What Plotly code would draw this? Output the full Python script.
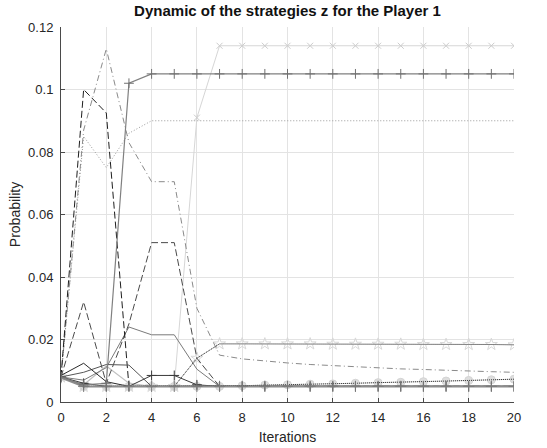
import plotly.graph_objects as go

iterations = list(range(21))

# series values (probabilities per iteration)
s_x_light = [0.008, 0.005, 0.005, 0.005, 0.005, 0.005, 0.091] + [0.114] * 14
s_plus = [0.008, 0.0055, 0.006, 0.102] + [0.105] * 17
s_dotted = [0.008, 0.085, 0.075, 0.086] + [0.090] * 17
s_dashdot = [0.008, 0.087, 0.113, 0.083, 0.0705, 0.0705, 0.030, 0.0150, 0.0138, 0.0131,
             0.0125, 0.0120, 0.0116, 0.0112, 0.0109, 0.0106, 0.0104, 0.0101, 0.0099, 0.0097, 0.0095]
s_dash_black = [0.008, 0.100, 0.0925, 0.005] + [0.005] * 17
s_dash_gray = [0.008, 0.032, 0.006, 0.025, 0.051, 0.051, 0.014] + [0.005] * 14
s_solid_gray = [0.008, 0.007, 0.011, 0.024, 0.0215, 0.0215, 0.0105] + [0.005] * 14
s_solid_black = [0.0085, 0.0124, 0.0065] + [0.005] * 18
s_solid_dark = [0.008, 0.0095, 0.012, 0.0118] + [0.005] * 17
s_solid_light = [0.008, 0.0055, 0.0115, 0.006] + [0.005] * 17
s_plus_dark = [0.008, 0.006, 0.005, 0.005, 0.0085, 0.0085, 0.0055] + [0.005] * 14
s_star = [0.008, 0.005, 0.005, 0.005, 0.005, 0.005, 0.014, 0.0186, 0.0186, 0.0186, 0.0186,
          0.0186, 0.0185, 0.0185, 0.0185, 0.0185, 0.0184, 0.0184, 0.0184, 0.0184, 0.0183]
s_circle = [0.008, 0.005, 0.005, 0.005, 0.005, 0.005, 0.005, 0.005, 0.0052, 0.0054, 0.0055,
            0.0057, 0.0058, 0.0060, 0.0062, 0.0063, 0.0065, 0.0067, 0.0069, 0.0071, 0.0073]
s_bottom = [0.0078] + [0.005] * 20

y_ticks = [0, 0.02, 0.04, 0.06, 0.08, 0.1, 0.12]
y_ticktext = ["0", "0.02", "0.04", "0.06", "0.08", "0.1", "0.12"]
x_ticks = list(range(0, 21, 2))

fig = go.Figure()


def add(y, color, dash="solid", width=1.0, symbol=None, msize=8, mcolor=None, mfill=None):
    mode = "lines+markers" if symbol else "lines"
    marker = None
    if symbol:
        marker = dict(symbol=symbol, size=msize,
                      color=mfill if mfill else (mcolor or color),
                      line=dict(color=mcolor or color, width=1))
    fig.add_trace(go.Scatter(x=iterations, y=y, mode=mode,
                             line=dict(color=color, dash=dash, width=width),
                             marker=marker, showlegend=False, hoverinfo="skip"))


add(s_circle, "#d6d6d6", symbol="circle", msize=8, mcolor="#d4d4d4", mfill="#dedede")
add(s_x_light, "#d6d6d6", symbol="x-thin-open", msize=6, mcolor="#cccccc")
add(s_star, "#dadada", symbol="star-open", msize=9, mcolor="#d8d8d8")
add(s_solid_light, "#c0c0c0", width=1.2)
add(s_dotted, "#9a9a9a", dash="1px,2px")
add(s_dashdot, "#8a8a8a", dash="6px,3px,1px,3px")
add(s_solid_gray, "#7a7a7a")
add(s_dash_gray, "#4a4a4a", dash="7px,3px")
add(s_dash_black, "#1e1e1e", dash="7px,3px")
add(s_solid_dark, "#555555")
add(s_solid_black, "#2a2a2a")
add(s_plus_dark, "#3a3a3a", symbol="cross-thin-open", msize=7)
add([v for v in s_star], "#2a2a2a", dash="1px,1px")
add(s_circle, "#333333", dash="1px,1px")
add(s_bottom, "#8c8c8c", width=2, symbol="cross-thin-open", msize=8, mcolor="#7a7a7a")
add(s_plus, "#808080", width=1.2, symbol="cross-thin-open", msize=7, mcolor="#707070")

axis_common = dict(showgrid=True, gridcolor="#e3e3e3", gridwidth=1, zeroline=False,
                   showline=True, linecolor="#4a4a4a", linewidth=1, ticks="inside",
                   ticklen=4, tickcolor="#4a4a4a", mirror=False, automargin=False,
                   tickfont=dict(family="Liberation Sans, Arial", size=13, color="#262626"))

fig.update_layout(
    width=547, height=448,
    margin=dict(l=61, r=33, t=27, b=46),
    paper_bgcolor="white", plot_bgcolor="white",
    title=dict(text="<b>Dynamic of the strategies z for the Player 1</b>",
               x=0.5, xref="paper", xanchor="center", y=1, yref="container",
               yanchor="top", pad=dict(t=5),
               font=dict(family="Liberation Sans, Arial", size=15, color="#111111")),
    xaxis=dict(range=[0, 20], tickvals=x_ticks, ticklabelstandoff=3,
               title=dict(text="Iterations", standoff=8,
                          font=dict(family="Liberation Sans, Arial", size=14, color="#262626")),
               **axis_common),
    yaxis=dict(range=[0, 0.12], tickvals=y_ticks, ticktext=y_ticktext, ticklabelstandoff=4,
               title=dict(text="Probability", standoff=4,
                          font=dict(family="Liberation Sans, Arial", size=14, color="#262626")),
               **axis_common),
)

fig.write_html("out.html")
